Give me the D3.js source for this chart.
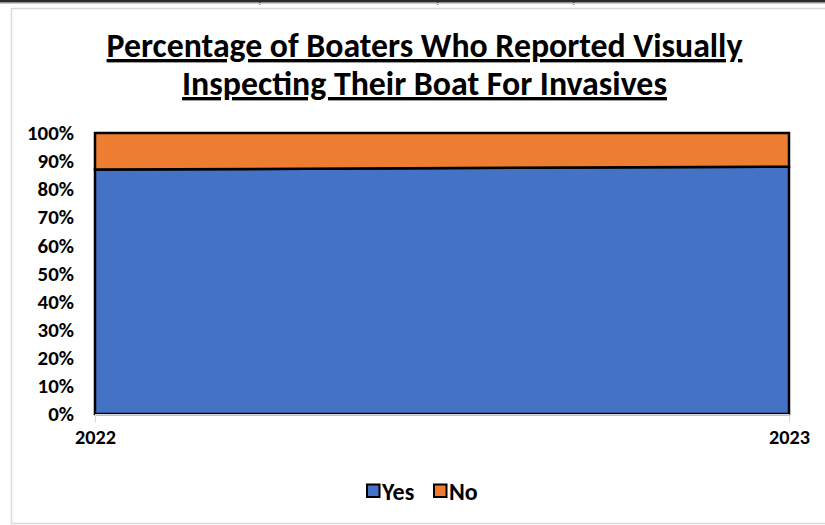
<!DOCTYPE html>
<html>
<head>
<meta charset="utf-8">
<script src="https://cdn.jsdelivr.net/npm/d3@7/dist/d3.min.js"></script>
<style>
  html, body { margin: 0; padding: 0; background: #fff; }
  svg { display: block; }
  text { font-family: Carlito, "Open Sans", "Liberation Sans", sans-serif; }
</style>
</head>
<body>
<svg id="chart" width="825" height="525"></svg>
<script>
// Survey years and share of answers (percent)
const years = ["2022", "2023"];
const yesPct = [87, 88];
const noPct = [13, 12];
const seriesNames = ["Yes", "No"];
const seriesColors = ["#4472C4", "#ED7D31"];
const yTicks = [0, 10, 20, 30, 40, 50, 60, 70, 80, 90, 100];
const titleLines = [
  "Percentage of Boaters Who Reported Visually",
  "Inspecting Their Boat For Invasives"
];

const FONT = 'Carlito, "Open Sans", "Liberation Sans", sans-serif';
const svg = d3.select("#chart");

// Scale a text element's font size so that it spans the given width
function fitWidth(sel, target, size) {
  sel.attr("font-size", size);
  const w = sel.node().getComputedTextLength();
  const s = size * target / w;
  sel.attr("font-size", s);
  return s;
}

// Page frame: dark rule along the top and the chart box outline
svg.append("rect").attr("x", 0).attr("y", 0).attr("width", 825).attr("height", 2.5).attr("fill", "#2b2b2b");
[259, 437, 573].forEach(px => {
  svg.append("rect").attr("x", px).attr("y", 2).attr("width", 1.5).attr("height", 2.5).attr("fill", "#444");
});
svg.append("line").attr("x1", 0).attr("x2", 825).attr("y1", 3.5).attr("y2", 3.5)
  .attr("stroke", "#c8c8c8").attr("stroke-width", 1);
svg.append("rect").attr("x", 11.5).attr("y", 8.5).attr("width", 830).attr("height", 515)
  .attr("fill", "#fff").attr("stroke", "#d9d9d9").attr("stroke-width", 1.5);

// Title, bold and underlined
const titleSpec = [
  { y: 57, width: 636 },
  { y: 95, width: 485 }
];
titleLines.forEach((t, i) => {
  const el = svg.append("text")
    .attr("x", 424.5).attr("y", titleSpec[i].y)
    .attr("text-anchor", "middle")
    .attr("font-weight", "bold")
    .attr("fill", "#000")
    .attr("text-decoration", "underline")
    .text(t);
  fitWidth(el, titleSpec[i].width, 28);
});

// Scales
const x = d3.scalePoint().domain(years).range([95, 789]);
const y = d3.scaleLinear().domain([0, 100]).range([414, 133]);

// Stack the two answer series
const rows = years.map((yr, i) => ({ year: yr, Yes: yesPct[i], No: noPct[i] }));
const stacked = d3.stack().keys(seriesNames)(rows);

const area = d3.area()
  .x(d => x(d.data.year))
  .y0(d => y(d[0]))
  .y1(d => y(d[1]));

svg.append("g").selectAll("path")
  .data(stacked)
  .join("path")
  .attr("d", area)
  .attr("fill", (d, i) => seriesColors[i])
  .attr("stroke", "#000")
  .attr("stroke-width", 2.5)
  .attr("stroke-linejoin", "miter");

// Y axis: percentage labels only
const yAxis = d3.axisLeft(y)
  .tickValues(yTicks)
  .tickFormat(d => d + "%")
  .tickSize(0)
  .tickPadding(21);
const gy = svg.append("g").attr("transform", "translate(95,0)").call(yAxis);
gy.select(".domain").remove();
const yLabels = gy.selectAll("text")
  .attr("font-weight", "bold")
  .attr("fill", "#000")
  .style("font-family", FONT);
const topLabel = yLabels.filter(d => d === 100);
const ySize = fitWidth(topLabel, 47, 15);
yLabels.attr("font-size", ySize);

// X axis: light baseline with downward ticks
const xAxis = d3.axisBottom(x).tickSize(8).tickPadding(7);
const gx = svg.append("g").attr("transform", "translate(0,414.5)").call(xAxis);
gx.select(".domain").attr("stroke", "#d9d9d9").attr("d", "M95,0H789");
gx.selectAll(".tick line").attr("stroke", "#d9d9d9");
const xLabels = gx.selectAll("text")
  .attr("font-weight", "bold")
  .attr("fill", "#000")
  .style("font-family", FONT);
const xSize = fitWidth(xLabels.filter((d, i) => i === 0), 41, 15);
xLabels.attr("font-size", xSize);

// Legend
const legendItems = [
  { name: seriesNames[0], color: seriesColors[0], x: 367 },
  { name: seriesNames[1], color: seriesColors[1], x: 434 }
];
const lg = svg.append("g");
legendItems.forEach(it => {
  lg.append("rect")
    .attr("x", it.x).attr("y", 484.5)
    .attr("width", 12.5).attr("height", 12.5)
    .attr("fill", it.color)
    .attr("stroke", "#000").attr("stroke-width", 2);
  lg.append("text")
    .attr("x", it.x + 15).attr("y", 499.5)
    .attr("font-size", 24)
    .attr("font-weight", "bold")
    .attr("fill", "#000")
    .text(it.name);
});
</script>
</body>
</html>
